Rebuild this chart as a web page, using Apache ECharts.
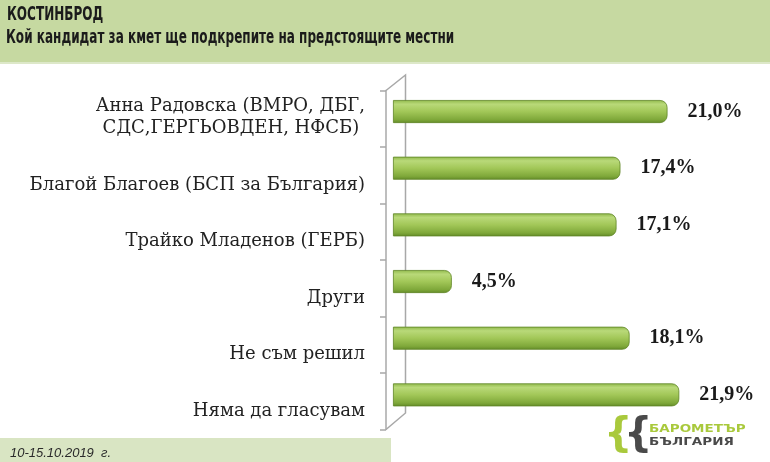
<!DOCTYPE html>
<html><head><meta charset="utf-8">
<script src="https://cdn.jsdelivr.net/npm/echarts@6/dist/echarts.min.js"></script>
<style>html,body{margin:0;padding:0;background:#fff}#c{width:770px;height:462px}</style>
</head><body><div id="c"></div>
<script>
const categories = [
  'Анна Радовска (ВМРО, ДБГ,\nСДС,ГЕРГЬОВДЕН, НФСБ) ',
  'Благой Благоев (БСП за България)',
  'Трайко Младенов (ГЕРБ)',
  'Други',
  'Не съм решил',
  'Няма да гласувам'
];
const values = [21.0, 17.4, 17.1, 4.5, 18.1, 21.9];
const titleText = 'КОСТИНБРОД';
const subtitleText = 'Кой кандидат за кмет ще подкрепите на предстоящите местни';
const dateText = '10-15.10.2019  г.';

const chart = echarts.init(document.getElementById('c'));
const fmt = v => v.toFixed(1).replace('.', ',') + '%';
const headFont = "bold 19px 'DejaVu Sans Condensed','DejaVu Sans',sans-serif";

chart.setOption({
  animation: false,
  backgroundColor: '#ffffff',
  graphic: [
    {type: 'rect', z: -10, shape: {x: 0, y: 0, width: 770, height: 62}, style: {fill: '#c6d9a1'}},
    {type: 'rect', z: -10, shape: {x: 0, y: 62, width: 770, height: 2}, style: {fill: '#dde8c9'}},
    {type: 'rect', z: -10, shape: {x: 0, y: 438, width: 391, height: 24}, style: {fill: '#d9e5c3'}},
    {type: 'text', x: 7, y: 15, scaleX: 0.705, style: {text: titleText, font: headFont, fill: '#1b1b1b', textVerticalAlign: 'middle'}},
    {type: 'text', x: 6, y: 38, scaleX: 0.705, style: {text: subtitleText, font: headFont, fill: '#1b1b1b', textVerticalAlign: 'middle'}},
    {type: 'text', x: 10, y: 453, style: {text: dateText, font: "italic 13px 'Liberation Sans',sans-serif", fill: '#2a2a2a', textVerticalAlign: 'middle'}},
    {type: 'polyline', z: 1, shape: {points: [[386, 90.5], [405.5, 75], [405.5, 413], [386, 429.5]]}, style: {stroke: '#a8a8a8', lineWidth: 1.5, fill: null}},
    {type: 'text', left: 604, top: 416, style: {text: '{', font: 'bold 40px DejaVu Sans', fill: '#a9c93c'}},
    {type: 'text', left: 624, top: 416, style: {text: '{', font: 'bold 40px DejaVu Sans', fill: '#4a4a4a'}},
    {type: 'text', x: 649, y: 424, scaleX: 1.35, style: {text: 'БАРОМЕТЪР', font: 'bold 10px DejaVu Sans', fill: '#a9c93c'}},
    {type: 'text', x: 649, y: 437, scaleX: 1.35, style: {text: 'БЪЛГАРИЯ', font: 'bold 10px DejaVu Sans', fill: '#4a4a4a'}}
  ],
  grid: [
    {left: 393, top: 83.2, height: 340, right: 11},
    {left: 386, top: 90.5, height: 339, right: 11}
  ],
  xAxis: [
    {type: 'value', gridIndex: 0, min: 0, max: 28, show: false},
    {type: 'value', gridIndex: 1, min: 0, max: 28, show: false}
  ],
  yAxis: [
    {type: 'category', gridIndex: 0, data: categories, inverse: true, show: false},
    {type: 'category', gridIndex: 1, inverse: true, data: categories,
     axisLine: {show: true, lineStyle: {color: '#a8a8a8', width: 1.5}},
     axisTick: {show: true, length: 6, lineStyle: {color: '#a8a8a8', width: 1.5}},
     axisLabel: {margin: 21, fontFamily: "'DejaVu Serif',serif", fontSize: 18, color: '#222',
       formatter: (v, i) => {
         const lines = v.split('\n');
         if (lines.length > 1) return '{b|' + lines[0] + '}\n{c|' + lines[1] + '}';
         return '{a|' + v + '}';
       },
       rich: {
         a: {fontFamily: "'DejaVu Serif',serif", fontSize: 18, color: '#222', padding: [20, 0, 0, 0]},
         b: {fontFamily: "'DejaVu Serif',serif", fontSize: 18, color: '#222', lineHeight: 25},
         c: {fontFamily: "'DejaVu Serif',serif", fontSize: 18, color: '#222', lineHeight: 25, padding: [0, 0, 6, 0]}
       }
     }
    }
  ],
  series: [{
    type: 'bar', xAxisIndex: 0, yAxisIndex: 0, data: values, barWidth: 23, z: 3,
    itemStyle: {
      borderRadius: [0, 7, 7, 0],
      borderColor: '#5f8526', borderWidth: 0.8,
      color: new echarts.graphic.LinearGradient(0, 0, 0, 1, [
        {offset: 0, color: '#8fb84a'},
        {offset: 0.18, color: '#b9d979'},
        {offset: 0.5, color: '#a2c758'},
        {offset: 0.85, color: '#7fa83a'},
        {offset: 1, color: '#628a28'}
      ])
    },
    label: {show: true, position: 'right', distance: 20, formatter: p => fmt(p.value),
      fontFamily: "'Liberation Serif',serif", fontWeight: 'bold', fontSize: 20, color: '#1a1a1a'}
  }]
});
</script></body></html>
